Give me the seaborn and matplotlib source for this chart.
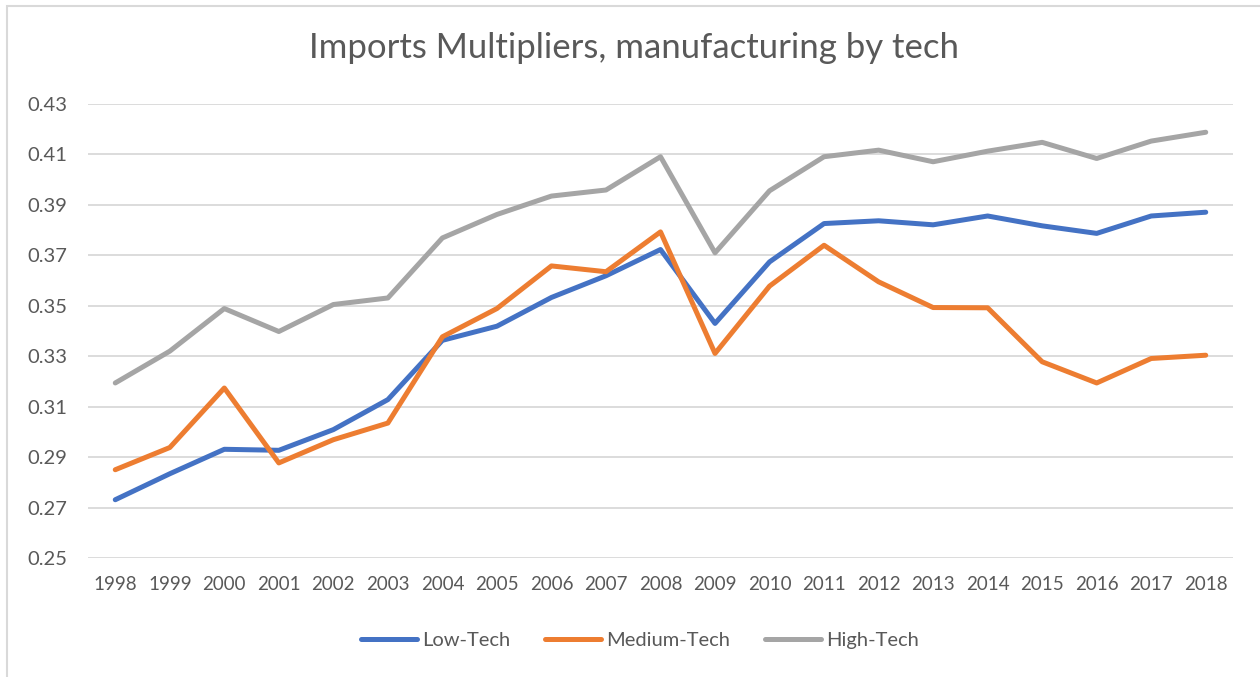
import pandas as pd
import matplotlib.pyplot as plt
import seaborn as sns
from matplotlib.patches import Rectangle

# Data
years = list(range(1998, 2019))
low_tech = [0.2731, 0.2834, 0.2931, 0.2927, 0.3009, 0.3128, 0.3363, 0.3419, 0.3533, 0.3619, 0.3723,
            0.3430, 0.3674, 0.3826, 0.3837, 0.3821, 0.3856, 0.3817, 0.3787, 0.3856, 0.3871]
medium_tech = [0.2850, 0.2938, 0.3174, 0.2877, 0.2969, 0.3035, 0.3377, 0.3489, 0.3658, 0.3635, 0.3793,
               0.3311, 0.3578, 0.3740, 0.3595, 0.3493, 0.3492, 0.3278, 0.3194, 0.3291, 0.3304]
high_tech = [0.3194, 0.3320, 0.3489, 0.3398, 0.3505, 0.3531, 0.3769, 0.3862, 0.3935, 0.3959, 0.4091,
             0.3710, 0.3956, 0.4091, 0.4117, 0.4071, 0.4113, 0.4148, 0.4084, 0.4153, 0.4188]
series_names = ["Low-Tech", "Medium-Tech", "High-Tech"]
colors = ["#4472C4", "#ED7D31", "#A5A5A5"]
y_ticks = [0.25, 0.27, 0.29, 0.31, 0.33, 0.35, 0.37, 0.39, 0.41, 0.43]

df = pd.DataFrame({"year": years, "Low-Tech": low_tech,
                   "Medium-Tech": medium_tech, "High-Tech": high_tech})
long_df = df.melt(id_vars="year", var_name="series", value_name="value")

sns.set_style("white")
plt.rcParams['font.family'] = ['Lato', 'DejaVu Sans']
text_color = "#595959"

W, H = 1260, 677
fig = plt.figure(figsize=(W / 100, H / 100), dpi=100)
ax = fig.add_axes([88 / W, 1 - 558 / H, (1233 - 88) / W, (558 - 104) / H])

sns.lineplot(data=long_df, x="year", y="value", hue="series", hue_order=series_names,
             palette=colors, linewidth=3.6, ax=ax, solid_capstyle="round")

ax.set_xlim(years[0] - 0.5, years[-1] + 0.5)
ax.set_ylim(0.25, 0.43)
ax.set_xticks(years)
ax.set_xticklabels([str(y) for y in years])
ax.set_yticks(y_ticks)
ax.set_yticklabels([f"{v:.2f}" for v in y_ticks])
ax.yaxis.grid(True, color="#D9D9D9", linewidth=1.3)
ax.set_axisbelow(True)
for s in ax.spines.values():
    s.set_visible(False)
ax.tick_params(axis="both", length=0, labelsize=13.5, colors=text_color)
ax.tick_params(axis="y", labelsize=14.5, pad=15)
ax.tick_params(axis="x", pad=13)
ax.set_xlabel("")
ax.set_ylabel("")

fig.text(634 / W, 1 - 48 / H, "Imports Multipliers, manufacturing by tech",
         ha="center", va="center", fontsize=25, color=text_color)

handles, labels = ax.get_legend_handles_labels()
ax.legend(handles, labels, loc="center", bbox_to_anchor=(640 / W, 1 - 640 / H),
          bbox_transform=fig.transFigure, ncol=3, frameon=False, fontsize=14.5,
          handlelength=2.8, handletextpad=0.25, columnspacing=1.7, labelcolor=text_color)

# chart-area border
fig.patches.append(Rectangle((6.5 / W, -0.05), 1.1, 1 - 5.5 / H + 0.05,
                             transform=fig.transFigure, fill=False,
                             edgecolor="#D9D9D9", linewidth=1.5))

fig.savefig("out.png", dpi=100)
